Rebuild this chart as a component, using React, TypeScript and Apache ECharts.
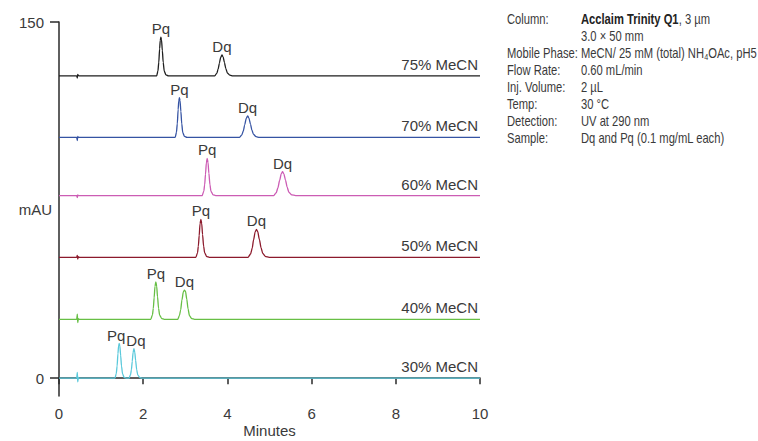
import React, { useEffect, useRef } from "react";
import * as echarts from "echarts";

const FONT = "'Liberation Sans', Arial, sans-serif";

// Condition names (top to bottom) and their vertical offsets (mAU)
const conditions = ["75% MeCN", "70% MeCN", "60% MeCN", "50% MeCN", "40% MeCN", "30% MeCN"];
const offsets = [127.3, 101.4, 76.9, 50.9, 24.8, 0];
const colors = ["#1e1e1e", "#3553a3", "#cc5cb4", "#8c1a2c", "#67bf45", "#5ac9db"];

// Chromatograms: [minutes, signal mAU]
const trace75: number[][] = [
  [0, 0], [0.42, 0], [0.435, -0.9], [0.445, 0.6], [0.46, 0.2], [0.48, 0],
  [2.32, 0], [2.35, 2.1], [2.37, 5.7], [2.39, 11.4], [2.405, 15.0], [2.42, 16.3], [2.435, 15.2], [2.455, 10.6], [2.475, 5.7], [2.5, 2.0], [2.54, 0.4], [2.6, 0],
  [3.7, 0], [3.75, 1.2], [3.78, 2.9], [3.81, 5.4], [3.84, 7.8], [3.87, 8.8], [3.9, 7.9], [3.93, 5.6], [3.96, 3.2], [4.0, 1.2], [4.06, 0.3], [4.13, 0],
  [10, 0],
];
const trace70: number[][] = [
  [0, 0], [0.42, 0], [0.435, -1.3], [0.445, 0.4], [0.46, 0], [0.48, 0],
  [2.76, 0], [2.79, 2.2], [2.81, 5.8], [2.83, 11.7], [2.845, 15.4], [2.86, 16.7], [2.875, 15.5], [2.895, 10.9], [2.915, 5.8], [2.94, 2.0], [2.98, 0.4], [3.04, 0],
  [4.29, 0], [4.34, 1.0], [4.38, 2.8], [4.41, 5.3], [4.45, 8.1], [4.48, 9.1], [4.51, 8.2], [4.55, 5.5], [4.58, 3.2], [4.62, 1.3], [4.68, 0.3], [4.76, 0],
  [10, 0],
];
const trace60: number[][] = [
  [0, 0], [0.42, 0], [0.435, -0.8], [0.445, 0.3], [0.46, 0], [0.48, 0],
  [3.4, 0], [3.44, 1.9], [3.46, 4.6], [3.48, 9.0], [3.5, 13.8], [3.52, 15.7], [3.54, 13.9], [3.56, 9.4], [3.585, 4.6], [3.61, 1.8], [3.66, 0.3], [3.72, 0],
  [5.1, 0], [5.16, 1.2], [5.2, 3.3], [5.24, 6.4], [5.28, 9.2], [5.31, 10.1], [5.34, 9.2], [5.38, 6.5], [5.42, 3.5], [5.46, 1.4], [5.53, 0.3], [5.62, 0],
  [10, 0],
];
const trace50: number[][] = [
  [0, 0], [0.42, 0], [0.435, 0.8], [0.445, -0.7], [0.46, 0.3], [0.48, 0],
  [3.25, 0], [3.29, 1.9], [3.31, 4.7], [3.33, 9.2], [3.35, 14.1], [3.37, 16.0], [3.39, 14.2], [3.41, 9.6], [3.435, 4.7], [3.46, 1.9], [3.51, 0.3], [3.57, 0],
  [4.49, 0], [4.55, 1.4], [4.59, 3.9], [4.62, 7.2], [4.66, 10.7], [4.69, 11.8], [4.72, 10.8], [4.76, 7.5], [4.8, 4.0], [4.84, 1.6], [4.91, 0.3], [4.99, 0],
  [10, 0],
];
const trace40: number[][] = [
  [0, 0], [0.42, 0], [0.435, 2.2], [0.445, -1.4], [0.46, 0.3], [0.48, 0],
  [2.18, 0], [2.22, 1.9], [2.24, 4.6], [2.26, 9.1], [2.28, 13.9], [2.3, 15.8], [2.32, 14.0], [2.34, 9.5], [2.365, 4.6], [2.39, 1.8], [2.44, 0.3], [2.5, 0],
  [2.82, 0], [2.86, 1.5], [2.89, 4.0], [2.92, 8.2], [2.955, 11.6], [2.98, 12.3], [3.005, 11.7], [3.035, 8.5], [3.065, 4.4], [3.1, 1.5], [3.15, 0.3], [3.22, 0],
  [10, 0],
];
const trace30: number[][] = [
  [0, 0], [0.42, 0], [0.435, 2.4], [0.445, -1.5], [0.46, 0.3], [0.48, 0],
  [1.33, 0], [1.36, 1.9], [1.38, 5.1], [1.4, 10.3], [1.415, 13.5], [1.43, 14.6], [1.445, 13.6], [1.465, 9.5], [1.485, 5.1], [1.51, 1.8], [1.55, 0.3], [1.61, 0],
  [1.66, 0], [1.7, 1.5], [1.72, 3.6], [1.74, 7.1], [1.76, 10.9], [1.78, 12.4], [1.8, 11.0], [1.82, 7.5], [1.845, 3.6], [1.87, 1.4], [1.92, 0.2], [1.98, 0],
  [10, 0],
];
const traces = [trace75, trace70, trace60, trace50, trace40, trace30];

// Peak labels: retention times (min) of Pq and Dq apexes for each trace
const pqTimes = [2.42, 2.86, 3.52, 3.37, 2.3, 1.43];
const dqTimes = [3.87, 4.48, 5.31, 4.69, 2.98, 1.78];

const xTicks = [0, 2, 4, 6, 8, 10];
const yTicks = [0, 150];

const infoRows: [string, string][] = [
  ["Column:", "{b|Acclaim Trinity Q1}, 3 µm"],
  ["", "3.0 × 50 mm"],
  ["Mobile Phase:", "MeCN/ 25 mM (total) NH{sub|4}OAc, pH5"],
  ["Flow Rate:", "0.60 mL/min"],
  ["Inj. Volume:", "2 µL"],
  ["Temp:", "30 °C"],
  ["Detection:", "UV at 290 nm"],
  ["Sample:", "Dq and Pq (0.1 mg/mL each)"],
];

const TEXT = "#3a3a3a";
const FS = 15;

export default function App() {
  const ref = useRef<HTMLDivElement>(null);
  useEffect(() => {
    if (!ref.current) return;
    const chart = echarts.init(ref.current, undefined, { renderer: "svg" });

    const series = traces.map((tr, i) => {
      const off = offsets[i];
      // closely spaced peaks: nudge their labels apart
      const crowded = Math.abs(dqTimes[i] - pqTimes[i]) < 0.5;
      const data = tr.map((p, j) => {
        const item: any = { value: [p[0], p[1] + off] };
        let txt = "";
        let dx = 0;
        if (p[0] === pqTimes[i]) { txt = "Pq"; dx = crowded ? -3 : 0; }
        if (p[0] === dqTimes[i]) { txt = "Dq"; dx = crowded ? 2 : 0; }
        if (txt) {
          item.label = {
            show: true, formatter: txt, position: "top", distance: 1, offset: [dx, 0],
            fontFamily: FONT, fontSize: FS, color: TEXT,
          };
        }
        if (j === tr.length - 1) {
          item.label = {
            show: true, formatter: conditions[i], position: "top", align: "right",
            distance: 4, offset: [-2, 0], fontFamily: FONT, fontSize: FS, color: TEXT,
          };
        }
        return item;
      });
      return {
        type: "line",
        data,
        symbol: "circle",
        symbolSize: 0,
        showSymbol: true,
        showAllSymbol: true,
        smooth: 0.25,
        smoothMonotone: "x",
        lineStyle: { color: colors[i], width: 1.3 },
        itemStyle: { color: colors[i] },
        label: { show: false },
        silent: true,
        z: 2,
      };
    });

    const graphic: any[] = [];
    infoRows.forEach((row, i) => {
      const y = 20 + i * 16.9;
      if (row[0]) {
        graphic.push({
          type: "text", x: 507, y, scaleX: 0.8,
          style: { text: row[0], fontFamily: FONT, fontSize: 14, fill: TEXT, verticalAlign: "middle" },
        });
      }
      graphic.push({
        type: "text", x: 581, y, scaleX: 0.8,
        style: {
          text: row[1], fontFamily: FONT, fontSize: 14, fill: TEXT, verticalAlign: "middle",
          rich: {
            b: { fontFamily: FONT, fontSize: 14, fontWeight: "bold", fill: "#222" },
            sub: { fontFamily: FONT, fontSize: 9, fill: TEXT, verticalAlign: "bottom", padding: [6, 0, 0, 0] },
          },
        },
      });
    });

    chart.setOption({
      animation: false,
      backgroundColor: "#ffffff",
      grid: { left: 59, right: 278, top: 22, bottom: 45, containLabel: false, outerBoundsMode: "none" },
      xAxis: {
        type: "value",
        min: 0,
        max: 10,
        interval: 2,
        name: "Minutes",
        nameLocation: "middle",
        nameGap: 27,
        nameMoveOverlap: false,
        nameTextStyle: { fontFamily: FONT, fontSize: FS, color: TEXT },
        axisLine: { show: true, lineStyle: { color: "#2a2a2a", width: 1.5 } },
        axisTick: { show: true, length: 6, lineStyle: { color: "#2a2a2a", width: 1.5 }, customValues: xTicks },
        axisLabel: { fontFamily: FONT, fontSize: FS, color: TEXT, margin: 10, customValues: xTicks },
        splitLine: { show: false },
      },
      yAxis: {
        type: "value",
        min: -7.5,
        max: 150,
        name: "mAU",
        nameLocation: "middle",
        nameRotate: 0,
        nameGap: 7,
        nameMoveOverlap: false,
        nameTextStyle: { fontFamily: FONT, fontSize: FS, color: TEXT },
        axisLine: { show: true, lineStyle: { color: "#2a2a2a", width: 1.5 } },
        axisTick: { show: true, length: 9, lineStyle: { color: "#2a2a2a", width: 1.5 }, customValues: yTicks },
        axisLabel: { fontFamily: FONT, fontSize: FS, color: TEXT, margin: 15, customValues: yTicks },
        splitLine: { show: false },
      },
      series,
      graphic,
    });
    return () => chart.dispose();
  }, []);
  return <div ref={ref} style={{ position: "fixed", left: 0, top: 0, width: 758, height: 441 }} />;
}
